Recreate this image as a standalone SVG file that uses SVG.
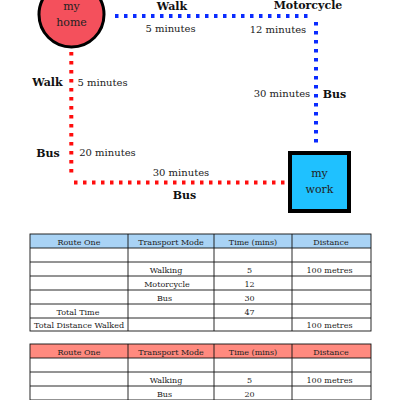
<svg xmlns="http://www.w3.org/2000/svg" width="400" height="400" viewBox="0 0 400 400">
<style>
.lbl{font-family:"DejaVu Serif",serif;font-size:10px;fill:#222;text-anchor:middle}
.bold{font-family:"DejaVu Serif",serif;font-size:11px;font-weight:bold;fill:#111;text-anchor:middle}
.node{font-family:"DejaVu Serif",serif;font-size:11px;fill:#222;text-anchor:middle}
.blue{stroke:#0a2bff;stroke-width:4;stroke-dasharray:3.5 5.5;fill:none}
.red{stroke:#ff0d0d;stroke-width:4;stroke-dasharray:3.5 5.5;fill:none}
.t{font-family:"DejaVu Serif",serif;font-size:8px;fill:#222;text-anchor:middle}
.grid{stroke:#111;stroke-width:0.9;fill:none}
</style>
<g id="connectors">
<line class="blue" x1="115" y1="16" x2="312" y2="16"/>
<line class="blue" x1="316" y1="22" x2="316" y2="148"/>
<line class="red" x1="71.3" y1="52" x2="71.3" y2="178"/>
<line class="red" x1="74" y1="182.5" x2="288" y2="182.5"/>
</g>
<g id="labels">
<text class="bold" x="172" y="9.5">Walk</text>
<text class="lbl" x="170.5" y="32">5 minutes</text>
<text class="bold" x="308" y="8.5">Motorcycle</text>
<text class="lbl" x="278" y="33">12 minutes</text>
<text class="lbl" x="282" y="97">30 minutes</text>
<text class="bold" x="334.5" y="97.5">Bus</text>
<text class="bold" x="47.5" y="86">Walk</text>
<text class="lbl" x="102.5" y="86">5 minutes</text>
<text class="bold" x="48" y="156.5">Bus</text>
<text class="lbl" x="107.5" y="156">20 minutes</text>
<text class="lbl" x="181" y="176">30 minutes</text>
<text class="bold" x="184.5" y="199">Bus</text>
</g>
<g id="home">
<circle cx="71.5" cy="14.5" r="32.5" fill="#f4505c" stroke="#000" stroke-width="3"/>
<text class="node" x="71.5" y="10">my</text>
<text class="node" x="71.5" y="26">home</text>
</g>
<g id="work">
<rect x="290" y="153" width="59" height="58" fill="#1fc1ff" stroke="#000" stroke-width="4"/>
<text class="node" x="319.5" y="177">my</text>
<text class="node" x="319.5" y="193">work</text>
</g>
<g id="table1">
<rect x="30" y="234" width="341" height="14" fill="#a9d3f5"/>
<rect class="grid" x="30" y="234" width="341" height="97"/>
<path class="grid" d="M30 248H371M30 262H371M30 276H371M30 290H371M30 304H371M30 318H371M128 234V331M214 234V331M292 234V331"/>
<text class="t" x="79" y="244.5">Route One</text>
<text class="t" x="171" y="244.5">Transport Mode</text>
<text class="t" x="253" y="244.5">Time (mins)</text>
<text class="t" x="331" y="244.5">Distance</text>
<text class="t" x="166" y="272.5">Walking</text>
<text class="t" x="249.5" y="272.5">5</text>
<text class="t" x="329.5" y="272.5">100 metres</text>
<text class="t" x="167" y="286.5">Motorcycle</text>
<text class="t" x="249.5" y="286.5">12</text>
<text class="t" x="164.5" y="300.5">Bus</text>
<text class="t" x="249.5" y="300.5">30</text>
<text class="t" x="78" y="314.5">Total Time</text>
<text class="t" x="249.5" y="314.5">47</text>
<text class="t" x="79" y="328">Total Distance Walked</text>
<text class="t" x="329.5" y="328">100 metres</text>
</g>
<g id="table2">
<rect x="30" y="344" width="341" height="14" fill="#ff8a7f"/>
<rect class="grid" x="30" y="344" width="341" height="56"/>
<path class="grid" d="M30 358H371M30 372H371M30 386H371M128 344V400M214 344V400M292 344V400"/>
<text class="t" x="79" y="354.5">Route One</text>
<text class="t" x="171" y="354.5">Transport Mode</text>
<text class="t" x="253" y="354.5">Time (mins)</text>
<text class="t" x="331" y="354.5">Distance</text>
<text class="t" x="166" y="382.5">Walking</text>
<text class="t" x="249.5" y="382.5">5</text>
<text class="t" x="329.5" y="382.5">100 metres</text>
<text class="t" x="164.5" y="396.5">Bus</text>
<text class="t" x="249.5" y="396.5">20</text>
</g>
</svg>
